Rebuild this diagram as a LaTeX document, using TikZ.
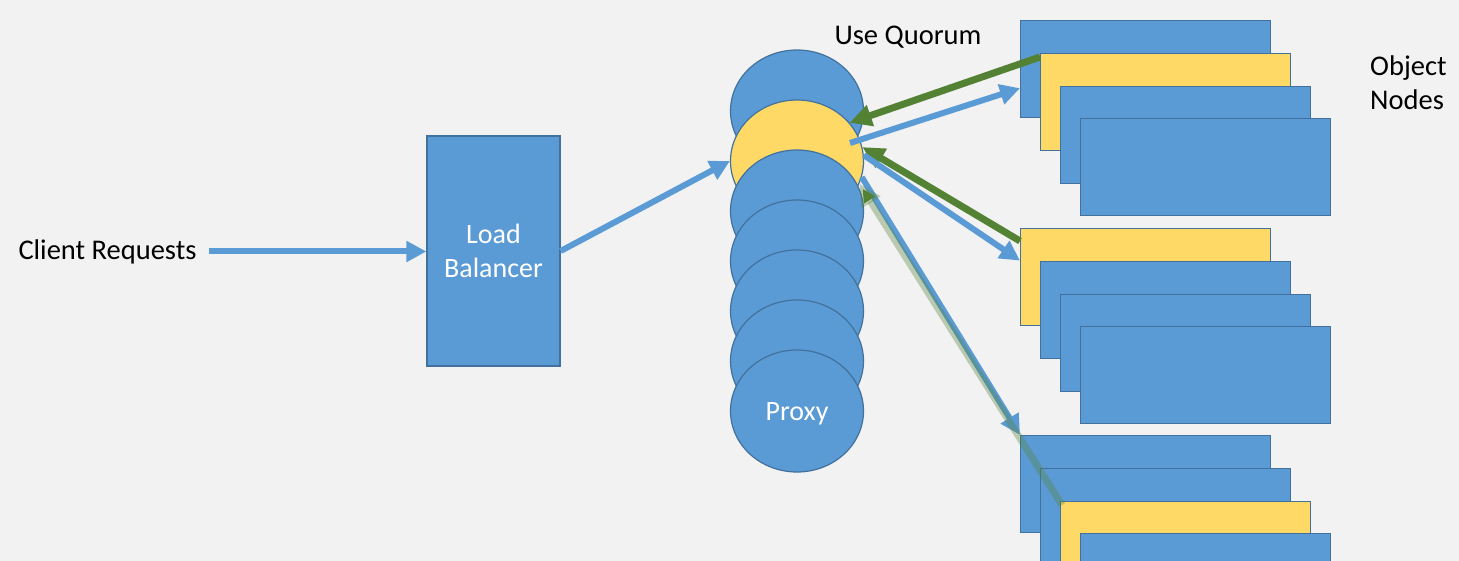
\documentclass[tikz,border=0pt]{standalone}
\usepackage{fontspec}
\setmainfont{Carlito}
\usetikzlibrary{shapes.geometric,arrows.meta,calc}
\definecolor{blueF}{HTML}{5B9BD5}
\definecolor{blueD}{HTML}{41719C}
\definecolor{yelF}{HTML}{FFD966}
\definecolor{grnA}{HTML}{548235}
\definecolor{bgC}{HTML}{F2F2F2}
\tikzset{
  objbox/.style={rectangle, fill=blueF, draw=blueD, line width=1.2pt, minimum width=250pt, minimum height=97pt, anchor=north west, inner sep=0pt},
  yelbox/.style={objbox, fill=yelF},
  proxy/.style={ellipse, fill=blueF, draw=blueD, line width=1.2pt, minimum width=133pt, minimum height=122pt, inner sep=0pt},
  yproxy/.style={proxy, fill=yelF},
  lbl/.style={font=\fontsize{28.5}{34}\selectfont, text=black, inner sep=2pt},
  wlbl/.style={font=\fontsize{28}{34}\selectfont, text=white, inner sep=2pt},
  barrow/.style={draw=blueF, line width=6pt, -{Triangle[length=20pt,width=20pt]}},
  garrow/.style={draw=grnA, line width=7pt, -{Triangle[length=22pt,width=21pt]}},
  larrow/.style={draw=grnA, draw opacity=0.35, line width=7pt, -{Triangle[length=22pt,width=21pt]}}
}
\begin{document}
\begin{tikzpicture}[x=1pt,y=-1pt]
\useasboundingbox (0,0) rectangle (1459,561);
\fill[bgC] (0,0) rectangle (1459,561);
\clip (0,0) rectangle (1459,561);
% texts
\node[lbl, inner xsep=12pt] (client) at (107.5,251.5) {Client Requests};
\node[lbl] (quorum) at (908,37) {Use Quorum};
\node[lbl, align=left, anchor=west] (objn) at (1368,83) {Object\\Nodes};
% load balancer
\node[rectangle, fill=blueF, draw=blueD, line width=1.2pt, minimum width=133pt, minimum height=230pt, inner sep=0pt, font=\fontsize{28}{34}\selectfont, text=white, align=center] (lb) at (493.5,251) {Load\\Balancer};
% proxies
\node[proxy] (p1) at (797,111) {};
\node[yproxy] (py) at (797,161) {};
\node[proxy] (p3) at (797,211) {};
\node[proxy] (p4) at (797,261) {};
\node[proxy] (p5) at (797,311) {};
\node[proxy] (p6) at (797,361) {};
\node[proxy] (p7) at (797,411) {};
\node[wlbl] (p7t) at ([yshift=-2.5pt]p7.center) {Proxy};
% object node stacks
\node[objbox] (s1a) at (1020,20) {};
\node[yelbox] (s1b) at (1040,53) {};
\node[objbox] (s1c) at (1060,86) {};
\node[objbox] (s1d) at (1080,118) {};
\node[yelbox] (s2a) at (1020,228) {};
\node[objbox] (s2b) at (1040,261) {};
\node[objbox] (s2c) at (1060,294) {};
\node[objbox] (s2d) at (1080,326) {};
\node[objbox] (s3a) at (1020,435) {};
\node[objbox] (s3b) at (1040,468) {};
\node[yelbox] (s3c) at (1060,501) {};
\node[objbox] (s3d) at (1080,533) {};
% connectors
\draw[barrow] (client.east) -- (client.east -| lb.west);
\draw[barrow] (lb.east) -- (py.west);
\draw[garrow] ([yshift=-4pt]s1b.north west) -- (py.36);
\draw[barrow] ($(py.center)+(53,-18)$) -- ([yshift=30pt]s1a.south west);
\draw[garrow] ([yshift=-13pt]s2a.north west) -- (py.12);
\draw[barrow] (py.5) -- ([yshift=16.5pt]s2a.west);
\draw[barrow] (py.-14) -- (s3a.north west);
\draw[larrow] ([xshift=2pt,yshift=-4pt]s3c.north west) -- (py.-20);
\end{tikzpicture}
\end{document}
